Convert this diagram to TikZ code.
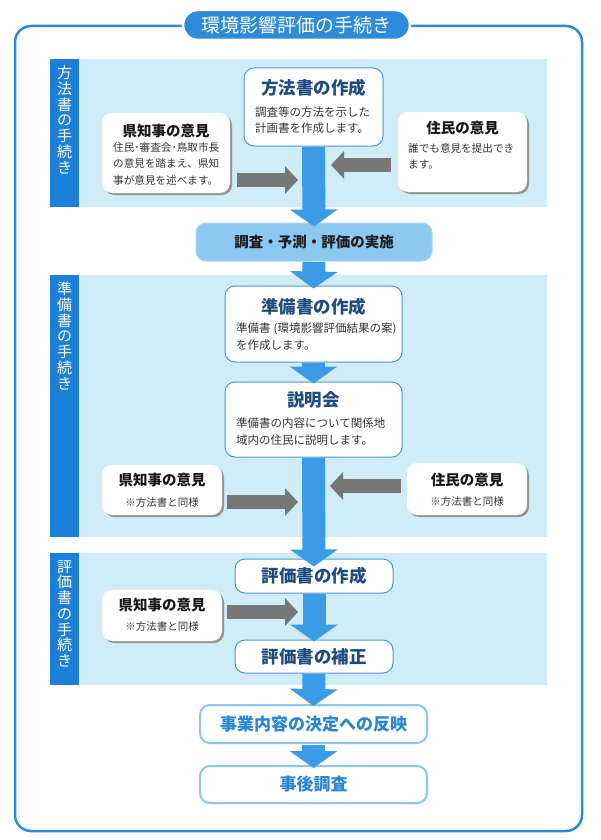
\documentclass[tikz,border=0pt]{standalone}
\usepackage{fontspec}
\setmainfont{Noto Sans CJK JP}
\usetikzlibrary{arrows.meta,shadows}
\definecolor{frameblue}{HTML}{2F8AD8}
\definecolor{pillblue}{HTML}{2D8BD9}
\definecolor{bandcyan}{HTML}{CFECF7}
\definecolor{tabblue}{HTML}{1C7FD8}
\definecolor{boxblue}{HTML}{4D97D9}
\definecolor{navy}{HTML}{1E4C7F}
\definecolor{bodygray}{HTML}{353535}
\definecolor{arrowblue}{HTML}{3A9BE6}
\definecolor{arrowgray}{HTML}{777777}
\definecolor{chosafill}{HTML}{8DC8F0}
\definecolor{chosaline}{HTML}{A9D6F4}
\definecolor{lightline}{HTML}{8CC5EF}
\definecolor{lighttext}{HTML}{2A85D5}
\begin{document}
\begin{tikzpicture}[x=1pt,y=-1pt,
  band/.style={fill=bandcyan,draw=none},
  tab/.style={fill=tabblue,draw=none},
  tabtext/.style={anchor=north,align=center,inner sep=0pt,text=white,font=\fontsize{15}{15.7}\selectfont},
  wbox/.style={draw=boxblue,line width=1pt,fill=white,rounded corners=10pt,inner sep=0pt},
  obox/.style={fill=white,rounded corners=10pt,inner sep=0pt,
    drop shadow={shadow xshift=2pt,shadow yshift=-2pt,fill=black!45,opacity=0.9}},
  navytitle/.style={inner sep=0pt,text=navy,font=\fontsize{17.5}{20}\selectfont\bfseries},
  optitle/.style={inner sep=0pt,text=black!90,font=\fontsize{14.5}{17}\selectfont\bfseries},
  bodytext/.style={anchor=west,align=left,inner sep=0pt,text=bodygray,font=\fontsize{11.5}{16.5}\selectfont},
  smalltext/.style={anchor=west,align=left,inner sep=0pt,text=bodygray,font=\fontsize{10.6}{16.5}\selectfont},
  notetext/.style={inner sep=0pt,text=bodygray,font=\fontsize{10.5}{12}\selectfont},
  mainarrow/.style={draw=arrowblue,line width=23pt,-{Triangle[width=47pt,length=17pt]}},
  grayarrow/.style={draw=arrowgray,line width=14pt,-{Triangle[width=27pt,length=13pt]}},
  lightbox/.style={draw=lightline,line width=2pt,fill=white,rounded corners=10pt,inner sep=0pt,
    text=lighttext,font=\fontsize{17}{20}\selectfont\bfseries}
]
\useasboundingbox (0,0) rectangle (600,840);
\fill[white] (0,0) rectangle (600,840);

% outer frame and title
\draw[frameblue,line width=2.5pt,rounded corners=16pt] (15,26) rectangle (582,831);
\node[fill=pillblue,draw=white,line width=2.5pt,rounded corners=15pt,minimum width=227pt,minimum height=30pt,
  inner sep=0pt,text=white,font=\fontsize{19}{21}\selectfont] (title) at (296.5,25) {環境影響評価の手続き};

% bands and tabs
\fill[band] (50,59) rectangle (547,207);
\fill[band] (50,275) rectangle (547,537);
\fill[band] (50,553) rectangle (547,685);
\fill[tab] (50,59) rectangle (79,207);
\fill[tab] (50,275) rectangle (79,537);
\fill[tab] (50,553) rectangle (79,685);
\node[tabtext] (tab1) at (64.5,66) {方\\法\\書\\の\\手\\続\\き};
\node[tabtext] (tab2) at (64.5,282) {準\\備\\書\\の\\手\\続\\き};
\node[tabtext] (tab3) at (64.5,560) {評\\価\\書\\の\\手\\続\\き};

% section 1
\node[wbox,minimum width=139pt,minimum height=78pt] (hos) at (313.5,107) {};
\node[navytitle] (hos-t) at (313.5,88) {方法書の作成};
\node[bodytext] (hos-b) at (255,120) {調査等の方法を示した\\計画書を作成します。};

\node[obox,minimum width=128pt,minimum height=80pt] (ken1) at (166,153) {};
\node[optitle] (ken1-t) at (166,131) {県知事の意見};
\node[smalltext] (ken1-b) at (113,163.5) {住民･審査会･鳥取市長\\の意見を踏まえ、県知\\事が意見を述べます。};

\node[obox,minimum width=129pt,minimum height=80pt] (jum1) at (462.5,152) {};
\node[optitle] (jum1-t) at (462.5,128) {住民の意見};
\node[smalltext] (jum1-b) at (408,156.5) {誰でも意見を提出でき\\ます。};

% survey
\node[fill=chosafill,draw=chosaline,line width=1pt,rounded corners=10pt,minimum width=236pt,minimum height=38pt,
  inner sep=0pt,text=black!88,font=\fontsize{14.5}{17}\selectfont\bfseries] (chosa) at (314,242) {調査・予測・評価の実施};

% section 2
\node[wbox,minimum width=177pt,minimum height=76pt] (jun) at (313.5,324) {};
\node[navytitle] (jun-t) at (313.5,307) {準備書の作成};
\node[bodytext] (jun-b) at (236,336.5) {準備書\hspace{3pt}(環境影響評価結果の案)\\を作成します。};

\node[wbox,minimum width=177pt,minimum height=75pt] (setsu) at (313.5,419.5) {};
\node[navytitle] (setsu-t) at (313.5,400) {説明会};
\node[bodytext] (setsu-b) at (236,431.5) {準備書の内容について関係地\\域内の住民に説明します。};

\node[obox,minimum width=120pt,minimum height=50pt] (ken2) at (162,490) {};
\node[optitle] (ken2-t) at (162,480) {県知事の意見};
\node[notetext] (ken2-n) at (162,503) {※方法書と同様};

\node[obox,minimum width=120pt,minimum height=52pt] (jum2) at (467,489) {};
\node[optitle] (jum2-t) at (467,480) {住民の意見};
\node[notetext] (jum2-n) at (467,502) {※方法書と同様};

% section 3
\node[wbox,minimum width=158pt,minimum height=34pt,text=navy,font=\fontsize{17.5}{20}\selectfont\bfseries] (hyo) at (314,576) {評価書の作成};
\node[obox,minimum width=120pt,minimum height=51pt] (ken3) at (162,615.5) {};
\node[optitle] (ken3-t) at (162,605) {県知事の意見};
\node[notetext] (ken3-n) at (162,627) {※方法書と同様};
\node[wbox,minimum width=158pt,minimum height=33pt,text=navy,font=\fontsize{17.5}{20}\selectfont\bfseries] (hosei) at (314,656.5) {評価書の補正};

% final steps
\node[lightbox,minimum width=227pt,minimum height=38pt] (jigyo) at (313.5,724) {事業内容の決定への反映};
\node[lightbox,minimum width=227pt,minimum height=37pt] (jigo) at (313.5,784.5) {事後調査};

% main flow arrows
\draw[mainarrow] ([yshift=-0.5pt]hos.south) -- ([yshift=-4pt]chosa.north);
\draw[mainarrow] ([yshift=-0.5pt]chosa.south) -- ([yshift=-3pt]jun.north);
\draw[mainarrow] ([yshift=-0.5pt]jun.south) -- ([yshift=-2pt]setsu.north);
\draw[mainarrow] ([yshift=-0.5pt]setsu.south) -- ([yshift=-8pt]hyo.north);
\draw[mainarrow] ([yshift=-0.5pt]hyo.south) -- ([yshift=-2pt]hosei.north);
\draw[mainarrow] ([yshift=-0.5pt]hosei.south) -- ([yshift=-2pt]jigyo.north);
\draw[mainarrow] ([yshift=-0.5pt]jigyo.south) -- ([yshift=-3pt]jigo.north);

% opinion arrows
\coordinate (g1s) at (237,180);
\coordinate (g1e) at (298,180);
\coordinate (g2s) at (391,165);
\coordinate (g2e) at (331,165);
\coordinate (g3s) at (227,502);
\coordinate (g3e) at (298,502);
\coordinate (g4s) at (401,486);
\coordinate (g4e) at (330,486);
\coordinate (g5s) at (227,612);
\coordinate (g5e) at (298,612);
\draw[grayarrow] (g1s) -- (g1e);
\draw[grayarrow] (g2s) -- (g2e);
\draw[grayarrow] (g3s) -- (g3e);
\draw[grayarrow] (g4s) -- (g4e);
\draw[grayarrow] (g5s) -- (g5e);
\end{tikzpicture}
\end{document}
